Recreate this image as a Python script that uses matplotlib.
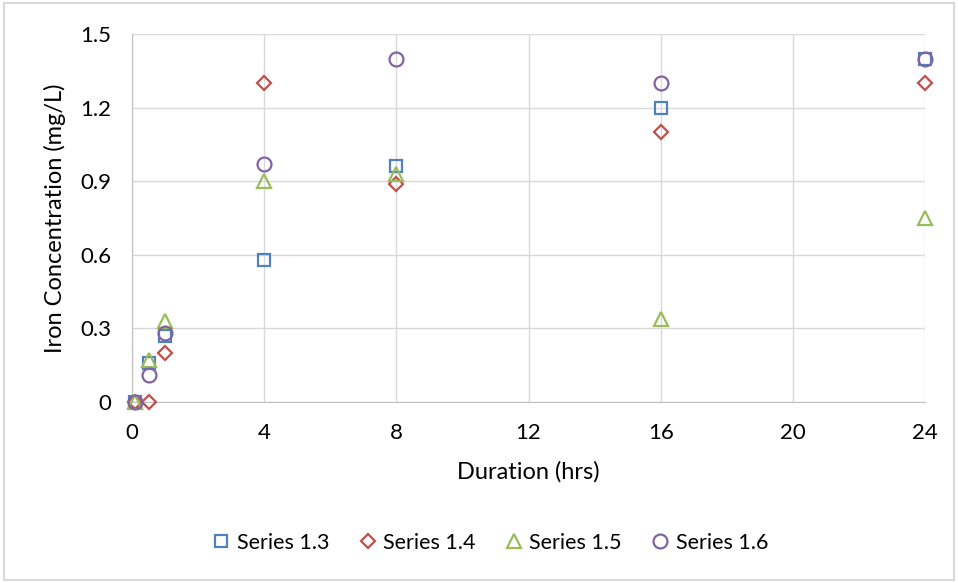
import matplotlib.pyplot as plt
from matplotlib.patches import Rectangle

plt.rcParams['font.family'] = ['Lato', 'DejaVu Sans']

# durations (hrs) and iron concentration (mg/L) per series
x_13 = [0.1, 0.5, 1, 4, 8, 16, 24]
y_13 = [0.0, 0.16, 0.27, 0.58, 0.96, 1.2, 1.4]

x_14 = [0.1, 0.5, 1, 4, 8, 16, 24]
y_14 = [0.0, 0.0, 0.2, 1.3, 0.89, 1.1, 1.3]

x_15 = [0.1, 0.5, 1, 4, 8, 16, 24]
y_15 = [0.0, 0.17, 0.33, 0.9, 0.93, 0.34, 0.75]

x_16 = [0.1, 0.5, 1, 4, 8, 16, 24]
y_16 = [0.0, 0.11, 0.28, 0.97, 1.4, 1.3, 1.4]

labels = ['Series 1.3', 'Series 1.4', 'Series 1.5', 'Series 1.6']
x_ticks = [0, 4, 8, 12, 16, 20, 24]
y_ticks = [0, 0.3, 0.6, 0.9, 1.2, 1.5]
y_tick_labels = ['0', '0.3', '0.6', '0.9', '1.2', '1.5']

fig = plt.figure(figsize=(9.58, 5.83), dpi=100)
ax = fig.add_axes([0.1378, 0.3105, 0.8278, 0.6312])

series = [
    (x_13, y_13, 's', '#4F81BD', 9),
    (x_14, y_14, 'D', '#C0504D', 7),
    (x_15, y_15, '^', '#9BBB59', 10),
    (x_16, y_16, 'o', '#8064A2', 10),
]
for (xs, ys, m, c, ms), lab in zip(series, labels):
    ax.plot(xs, ys, linestyle='none', marker=m, markersize=ms,
            markerfacecolor='none', markeredgecolor=c, markeredgewidth=1.6,
            label=lab, clip_on=False, zorder=3)

ax.set_xlim(0, 24)
ax.set_ylim(0, 1.5)
ax.set_xticks(x_ticks)
ax.set_yticks(y_ticks)
ax.set_yticklabels(y_tick_labels)
ax.grid(True, color='#D9D9D9', linewidth=1)
ax.set_axisbelow(True)
for side in ['top', 'right']:
    ax.spines[side].set_visible(False)
for side in ['left', 'bottom']:
    ax.spines[side].set_color('#BFBFBF')
ax.tick_params(length=0, labelsize=16, colors='#000000')
ax.tick_params(axis='x', pad=15)
ax.tick_params(axis='y', pad=15)

ax.set_xlabel('Duration (hrs)', fontsize=17, labelpad=13)
ax.set_ylabel('Iron Concentration (mg/L)', fontsize=17, labelpad=10)

fig.legend(loc='center', bbox_to_anchor=(0.513, 0.069), ncol=4, frameon=False,
           fontsize=15.5, handletextpad=0.4, columnspacing=1.5, handlelength=0.6)

fig.patches.append(Rectangle((0.004, 0.005), 0.992, 0.99, transform=fig.transFigure,
                             fill=False, edgecolor='#D9D9D9', linewidth=1.5))

fig.savefig('out.png', dpi=100)
